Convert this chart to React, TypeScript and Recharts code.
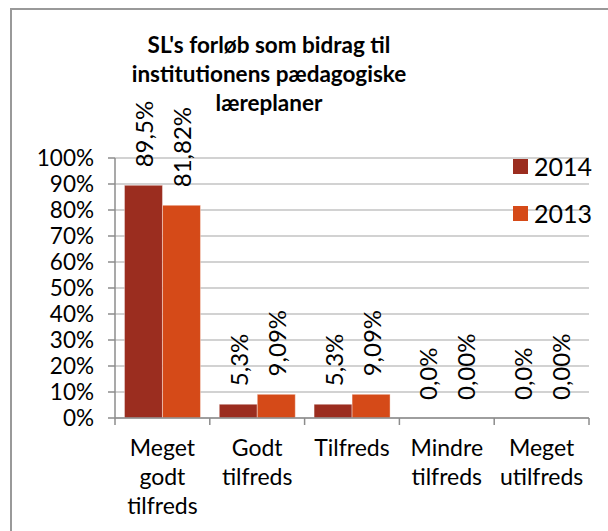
import { BarChart, Bar, XAxis, YAxis, CartesianGrid, Legend, Rectangle } from 'recharts';

const categories = ['Meget\ngodt\ntilfreds', 'Godt\ntilfreds', 'Tilfreds', 'Mindre\ntilfreds', 'Meget\nutilfreds'];
const values2014 = [89.5, 5.3, 5.3, 0, 0];
const values2013 = [81.82, 9.09, 9.09, 0, 0];
const yTicks = [0, 10, 20, 30, 40, 50, 60, 70, 80, 90, 100];
const titleLines = ["SL's forløb som bidrag til", 'institutionens pædagogiske', 'læreplaner'];

const FONT = 'Lato, "DejaVu Sans", sans-serif';
const C2014 = '#9b2d1f';
const C2013 = '#d54a18';
const PLOT_LEFT = 115;
const PLOT_RIGHT = 589;
const BAND = (PLOT_RIGHT - PLOT_LEFT) / categories.length;

const data = categories.map((name, i) => ({
  name,
  y2014: values2014[i],
  y2013: values2013[i],
}));

const fmt = (decimals: number) => (v: number) => v.toFixed(decimals).replace('.', ',') + '%';

// bar plus its rotated value label, so zero-height bars still get a label
function makeShape(decimals: number, dataKey: string) {
  return function BarWithLabel(props: any) {
    const { x, y, width, height, fill, payload } = props;
    const value = payload[dataKey];
    const cx = Number(x) + Number(width) / 2;
    const ty = Number(y) - 18;
    return (
      <g>
        {height > 0 && (
          <Rectangle x={x} y={y} width={width} height={height} fill={fill} stroke="#ffffff" strokeOpacity={0.4} />
        )}
        <text
          x={cx}
          y={ty}
          transform={`rotate(-90 ${cx} ${ty})`}
          textAnchor="start"
          dominantBaseline="central"
          fontFamily={FONT}
          fontSize={24}
          fill="#000"
        >
          {fmt(decimals)(value)}
        </text>
      </g>
    );
  };
}

function CategoryTick(props: any) {
  const { x, y, payload, index } = props;
  const lines = String(payload.value).split('\n');
  const axisY = y - 8;
  return (
    <g>
      <line x1={x - BAND / 2} x2={x - BAND / 2} y1={axisY} y2={axisY + 7} stroke="#8c8c8c" strokeWidth={1.5} />
      {index === categories.length - 1 && (
        <line x1={x + BAND / 2} x2={x + BAND / 2} y1={axisY} y2={axisY + 7} stroke="#8c8c8c" strokeWidth={1.5} />
      )}
      <text x={x} y={y + 30} textAnchor="middle" fontFamily={FONT} fontSize={23} fill="#000">
        {lines.map((l, i) => (
          <tspan key={i} x={x} dy={i === 0 ? 0 : 29}>
            {l}
          </tspan>
        ))}
      </text>
    </g>
  );
}

function LegendBox() {
  const items = [
    { label: '2014', color: C2014 },
    { label: '2013', color: C2013 },
  ];
  return (
    <div style={{ fontFamily: FONT, fontSize: 25 }}>
      {items.map((it) => (
        <div key={it.label} style={{ display: 'flex', alignItems: 'center', height: 26, marginBottom: 21 }}>
          <span style={{ display: 'inline-block', width: 15, height: 15, background: it.color, marginRight: 6 }} />
          <span>{it.label}</span>
        </div>
      ))}
    </div>
  );
}

export default function App() {
  return (
    <div style={{ position: 'absolute', left: 0, top: 0, width: 608, height: 531, background: '#fff' }}>
      <div
        style={{
          position: 'absolute',
          left: 10,
          top: 8,
          width: 598,
          height: 523,
          borderTop: '2px solid #999',
          borderLeft: '2px solid #999',
          boxSizing: 'border-box',
        }}
      />
      <BarChart
        width={608}
        height={531}
        data={data}
        margin={{ top: 158, right: 608 - PLOT_RIGHT, left: 0, bottom: 13 }}
        barCategoryGap="10%"
        barGap={0}
      >
        <text x={269} y={53} textAnchor="middle" fontFamily={FONT} fontWeight="bold" fontSize={22.5} fill="#000">
          {titleLines.map((l, i) => (
            <tspan key={i} x={269} dy={i === 0 ? 0 : 29}>
              {l}
            </tspan>
          ))}
        </text>
        <CartesianGrid vertical={false} stroke="#a6a6a6" strokeWidth={1.2} />
        <XAxis
          dataKey="name"
          height={100}
          interval={0}
          tick={<CategoryTick />}
          axisLine={{ stroke: '#8c8c8c', strokeWidth: 1.5 }}
          tickLine={false}
        />
        <YAxis
          width={PLOT_LEFT}
          domain={[0, 100]}
          ticks={yTicks}
          interval={0}
          tickFormatter={(v: number) => `${v}%`}
          tick={{ fontFamily: FONT, fontSize: 22.5, fill: '#000' }}
          axisLine={{ stroke: '#8c8c8c', strokeWidth: 1.5 }}
          tickLine={{ stroke: '#8c8c8c', strokeWidth: 1.5 }}
          tickSize={7}
          tickMargin={14}
        />
        <Legend
          layout="vertical"
          align="center"
          verticalAlign="middle"
          content={<LegendBox />}
          wrapperStyle={{ left: 513, top: 153, width: 95 }}
        />
        <Bar dataKey="y2014" name="2014" fill={C2014} isAnimationActive={false} shape={makeShape(1, 'y2014')} />
        <Bar dataKey="y2013" name="2013" fill={C2013} isAnimationActive={false} shape={makeShape(2, 'y2013')} />
      </BarChart>
    </div>
  );
}
